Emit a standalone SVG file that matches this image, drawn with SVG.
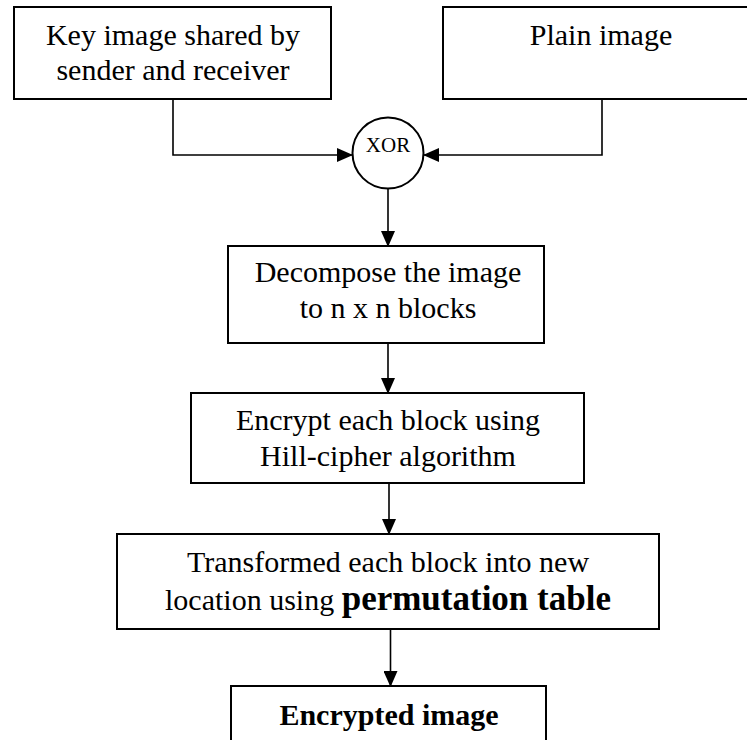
<svg xmlns="http://www.w3.org/2000/svg" width="747" height="740" viewBox="0 0 747 740">
<style>
.box{fill:#fff;stroke:#000;stroke-width:2}
.t{font-family:"Liberation Serif","Times New Roman",serif;font-size:30px;fill:#000;text-anchor:middle}
.b{font-weight:bold}
.c{fill:none;stroke:#000;stroke-width:1.6}
</style>
<defs>
<marker id="ah" markerUnits="userSpaceOnUse" markerWidth="16" markerHeight="14" viewBox="0 0 16 14" refX="15" refY="7" orient="auto">
<path d="M0,0 L16,7 L0,14 Z" fill="#000"/>
</marker>
</defs>
<rect width="747" height="740" fill="#fff"/>
<g id="connectors">
<polyline class="c" points="173,99 173,155 352,155" marker-end="url(#ah)"/>
<polyline class="c" points="602,99 602,155 424,155" marker-end="url(#ah)"/>
<line class="c" x1="388" y1="189" x2="388" y2="246" marker-end="url(#ah)"/>
<line class="c" x1="388" y1="343" x2="388" y2="393" marker-end="url(#ah)"/>
<line class="c" x1="389" y1="483" x2="389" y2="534" marker-end="url(#ah)"/>
<line class="c" x1="390.5" y1="629" x2="390.5" y2="686" marker-end="url(#ah)"/>
</g>
<g id="key">
<rect class="box" x="14" y="7" width="317" height="92"/>
<text class="t" x="173" y="45">Key image shared by</text>
<text class="t" x="173" y="80">sender and receiver</text>
</g>
<g id="plain">
<rect class="box" x="443" y="7" width="320" height="92"/>
<text class="t" x="601" y="45">Plain image</text>
</g>
<g id="xor">
<circle cx="388" cy="153" r="35.5" fill="#fff" stroke="#000" stroke-width="2"/>
<text class="t" x="388" y="152" style="font-size:21px">XOR</text>
</g>
<g id="decompose">
<rect class="box" x="228" y="246" width="316" height="97"/>
<text class="t" x="388" y="282">Decompose the image</text>
<text class="t" x="388" y="318">to n x n blocks</text>
</g>
<g id="encrypt">
<rect class="box" x="191" y="393" width="393" height="90"/>
<text class="t" x="388" y="430">Encrypt each block using</text>
<text class="t" x="388" y="466">Hill-cipher algorithm</text>
</g>
<g id="transform">
<rect class="box" x="117" y="534" width="542" height="95"/>
<text class="t" x="388" y="572">Transformed each block into new</text>
<text class="t" x="388" y="610">location using <tspan class="b" style="font-size:35px">permutation table</tspan></text>
</g>
<g id="encrypted">
<rect class="box" x="231" y="686" width="315" height="70"/>
<text class="t b" x="389" y="725">Encrypted image</text>
</g>
</svg>
